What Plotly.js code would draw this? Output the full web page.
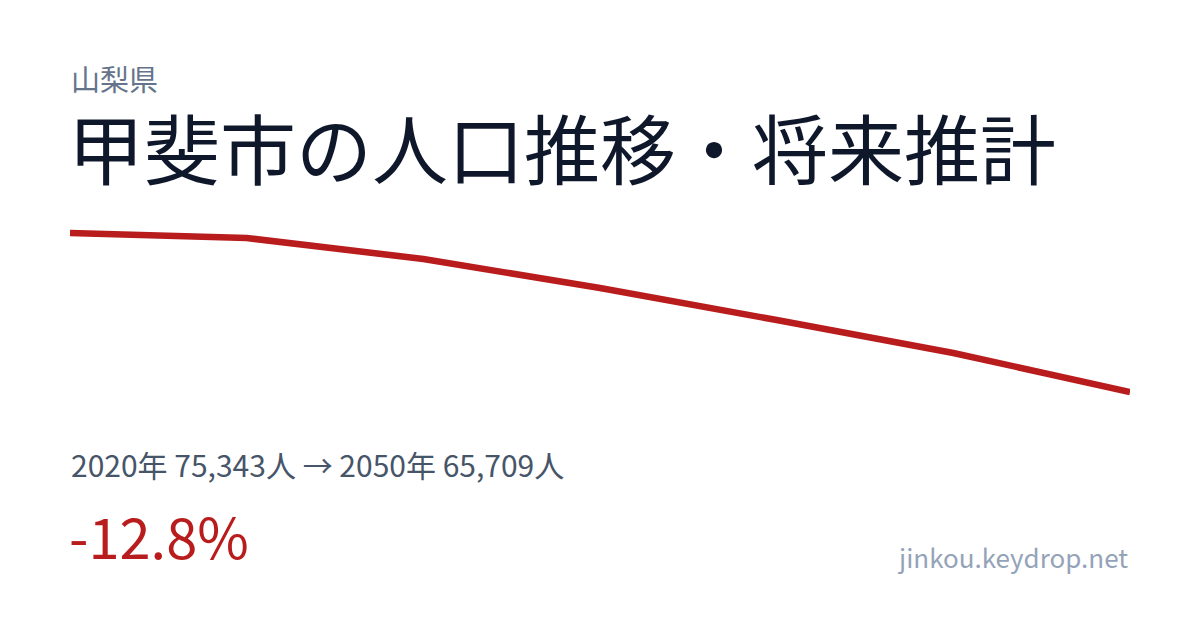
<!DOCTYPE html>
<html>
<head>
<meta charset="utf-8">
<script src="https://cdn.plot.ly/plotly-3.0.1.min.js"></script>
<style>html,body{margin:0;padding:0;background:#fff;}#chart{width:1200px;height:630px;}</style>
</head>
<body>
<div id="chart"></div>
<script>
const years = [2020, 2025, 2030, 2035, 2040, 2045, 2050];
const population = [75343, 75040, 73768, 72010, 70072, 68072, 65709];
const prefLabel = "山梨県";
const titleText = "甲斐市の人口推移・将来推計";
const summaryText = "2020年 75,343人 → 2050年 65,709人";
const changeText = "-12.8%";
const siteText = "jinkou.keydrop.net";

const W = 1200, H = 630;
const M = {l: 70, r: 70, t: 200, b: 200};
const plotW = W - M.l - M.r, plotH = H - M.t - M.b;
function px(x) { return (x - M.l) / plotW; }
function py(y) { return (H - M.b - y) / plotH; }
const font = "Noto Sans CJK JP, Noto Sans, sans-serif";

const trace = {
  x: years, y: population, type: "scatter", mode: "lines",
  line: {color: "#b91c1c", width: 6.5, shape: "linear"},
  hoverinfo: "skip"
};

const layout = {
  width: W, height: H,
  margin: M,
  paper_bgcolor: "#ffffff", plot_bgcolor: "#ffffff",
  showlegend: false,
  xaxis: {range: [2020, 2050], visible: false, fixedrange: true},
  yaxis: {range: [63407, 77343], visible: false, fixedrange: true},
  annotations: [
    {text: prefLabel, xref: "paper", yref: "paper", x: px(69), y: py(78), xanchor: "left", yanchor: "middle", height: 32, valign: "middle", showarrow: false, font: {family: font, size: 29, color: "#64748b"}},
    {text: titleText, xref: "paper", yref: "paper", x: px(66), y: py(146), xanchor: "left", yanchor: "middle", height: 84, valign: "middle", showarrow: false, font: {family: font, size: 76, color: "#0f172a"}},
    {text: summaryText, xref: "paper", yref: "paper", x: px(69), y: py(464), xanchor: "left", yanchor: "middle", showarrow: false, font: {family: font, size: 30, color: "#475569"}},
    {text: changeText, xref: "paper", yref: "paper", x: px(67), y: py(534), xanchor: "left", yanchor: "middle", showarrow: false, font: {family: font, size: 56, color: "#b91c1c"}},
    {text: siteText, xref: "paper", yref: "paper", x: px(1130), y: py(556), xanchor: "right", yanchor: "middle", showarrow: false, font: {family: font, size: 26, color: "#94a3b8"}}
  ]
};

Plotly.newPlot("chart", [trace], layout, {displayModeBar: false, staticPlot: true});
</script>
</body>
</html>
